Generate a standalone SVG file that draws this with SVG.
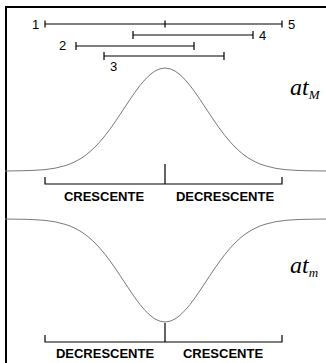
<svg xmlns="http://www.w3.org/2000/svg" width="326" height="363" viewBox="0 0 326 363">
<style>
.bar{stroke:#000;stroke-width:1.2;fill:none}
.curve{stroke:#7a7a7a;stroke-width:1;fill:none}
.br{stroke:#000;stroke-width:1.2;fill:none}
.num{font-family:"Liberation Sans",Arial,sans-serif;font-size:13px;fill:#000}
.lab{font-family:"Liberation Sans",Arial,sans-serif;font-size:13px;font-weight:bold;fill:#000}
.at{font-family:"Liberation Serif","Times New Roman",serif;font-style:italic;fill:#000}
</style>
<defs>
<path id="gauss" class="curve" d="M-160,0 L-140,-0.3 L-130,-0.7 L-120,-1.4 L-110,-2.8 L-100,-5.3 L-95,-7 L-90,-9.3 L-85,-12 L-80,-15.3 L-75,-19.3 L-70,-24 L-65,-29.3 L-60,-35.3 L-55,-41.9 L-50,-49 L-45,-56.4 L-40,-64 L-35,-71.5 L-30,-78.8 L-25,-85.5 L-20,-91.4 L-15,-96.3 L-10,-100 L-5,-102.2 L0,-103 L5,-102.2 L10,-100 L15,-96.3 L20,-91.4 L25,-85.5 L30,-78.8 L35,-71.5 L40,-64 L45,-56.4 L50,-49 L55,-41.9 L60,-35.3 L65,-29.3 L70,-24 L75,-19.3 L80,-15.3 L85,-12 L90,-9.3 L95,-7 L100,-5.3 L110,-2.8 L120,-1.4 L130,-0.7 L140,-0.3 L162,0"/>
</defs>
<g id="frame">
<line x1="6" y1="6" x2="6" y2="363" stroke="#000" stroke-width="2"/>
<line x1="5" y1="7" x2="326" y2="7" stroke="#000" stroke-width="2"/>
</g>
<g id="bar1">
<path class="bar" d="M45,24 H282 M45,20.5 V27.5 M282,20.5 V27.5 M165,20.5 V27.5"/>
<text class="num" x="32" y="29">1</text>
<text class="num" x="288" y="29">5</text>
</g>
<g id="bar4">
<path class="bar" d="M133,35 H253 M133,31 V39 M253,31 V39"/>
<text class="num" x="259" y="40">4</text>
</g>
<g id="bar2">
<path class="bar" d="M76,46 H194 M76,42 V50 M194,42 V50"/>
<text class="num" x="59" y="50">2</text>
</g>
<g id="bar3">
<path class="bar" d="M104,56 H224 M104,52 V60 M224,52 V60"/>
<text class="num" x="110" y="71">3</text>
</g>
<g id="curveMax">
<use href="#gauss" transform="translate(165,171)"/>
<text class="at" x="290" y="95"><tspan font-size="24">at</tspan><tspan font-size="13" dy="4">M</tspan></text>
</g>
<g id="bracketTop">
<path class="br" d="M45,177 V184 H282 V177 M165,164 V184"/>
<text class="lab" x="104" y="201" text-anchor="middle">CRESCENTE</text>
<text class="lab" x="225" y="201" text-anchor="middle">DECRESCENTE</text>
</g>
<g id="curveMin">
<use href="#gauss" transform="translate(165,219) scale(1,-1)"/>
<text class="at" x="290" y="273"><tspan font-size="24">at</tspan><tspan font-size="13" dy="4">m</tspan></text>
</g>
<g id="bracketBottom">
<path class="br" d="M45,335 V342 H282 V335 M165,323 V342"/>
<text class="lab" x="105" y="358" text-anchor="middle">DECRESCENTE</text>
<text class="lab" x="223" y="358" text-anchor="middle">CRESCENTE</text>
</g>
</svg>
